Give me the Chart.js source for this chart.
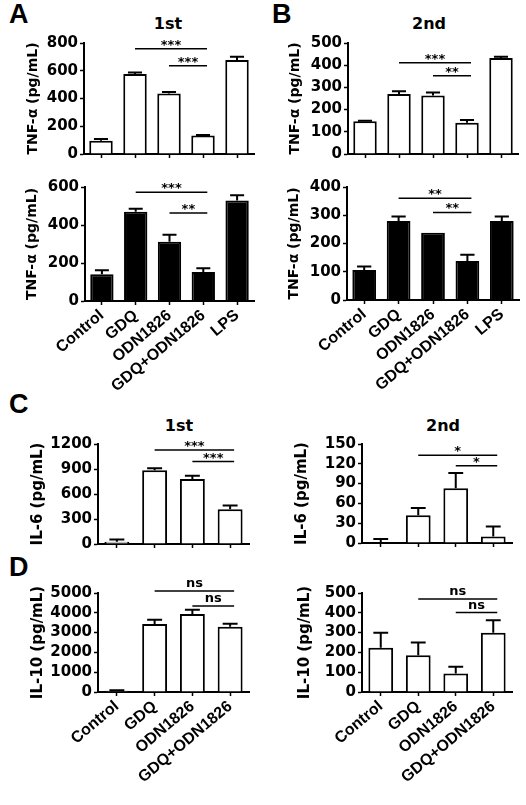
<!DOCTYPE html>
<html>
<head>
<meta charset="utf-8">
<script src="https://cdn.jsdelivr.net/npm/chart.js@4.4.0/dist/chart.umd.min.js"></script>
<style>
  body { margin: 0; background: #fff; width: 526px; height: 805px; position: relative; overflow: hidden; }
  canvas { position: absolute; }
  .txt { position: absolute; font-family: "DejaVu Sans"; font-weight: bold; line-height: 1; color: #000; white-space: nowrap; }
  .ttl { width: 100px; text-align: center; font-size: 16px; }
  .let { font-size: 27px; font-family: "Liberation Sans"; }
</style>
</head>
<body>
<div class="txt let" style="left:9px;top:1px">A</div>
<div class="txt let" style="left:272px;top:1px">B</div>
<div class="txt let" style="left:9px;top:391px">C</div>
<div class="txt let" style="left:9px;top:554px">D</div>
<div class="txt ttl" style="left:118px;top:16px">1st</div>
<div class="txt ttl" style="left:379px;top:16px">2nd</div>
<div class="txt ttl" style="left:129px;top:418px">1st</div>
<div class="txt ttl" style="left:393px;top:418px">2nd</div>

<canvas id="a1"></canvas>
<canvas id="b1"></canvas>
<canvas id="a2"></canvas>
<canvas id="b2"></canvas>
<canvas id="c1"></canvas>
<canvas id="c2"></canvas>
<canvas id="d1"></canvas>
<canvas id="d2"></canvas>

<script>
const groups5 = ['Control', 'GDQ', 'ODN1826', 'GDQ+ODN1826', 'LPS'];
const groups4 = ['Control', 'GDQ', 'ODN1826', 'GDQ+ODN1826'];

// TNF-a, open bars (top row) and filled bars (second row)
const tnfA1 = [96, 576, 436, 133, 677];
const tnfA1Err = [12, 12, 10, 4, 24];
const tnfA1Ticks = [0, 200, 400, 600, 800];
const tnfA1Sig = [[1, 3, 759, '***'], [2, 3, 636, '***']];

const tnfB1 = [147, 270, 263, 141, 432];
const tnfB1Err = [3, 13, 14, 12, 6];
const tnfB1Ticks = [0, 100, 200, 300, 400, 500];
const tnfB1Sig = [[1, 3, 411, '***'], [2, 3, 352, '**']];

const tnfA2 = [141, 470, 312, 153, 529];
const tnfA2Err = [21, 16, 37, 20, 27];
const tnfA2Ticks = [0, 200, 400, 600];
const tnfA2Sig = [[1, 3, 573, '***'], [2, 3, 463, '**']];

const tnfB2 = [106, 280, 238, 138, 280];
const tnfB2Err = [13, 16, 0, 22, 16];
const tnfB2Ticks = [0, 100, 200, 300, 400];
const tnfB2Sig = [[1, 3, 360, '**'], [2, 3, 310, '**']];

// IL-6
const il6First = [28, 885, 780, 418];
const il6FirstErr = [27, 25, 38, 44];
const il6FirstTicks = [0, 300, 600, 900, 1200];
const il6FirstSig = [[1, 3, 1129, '***'], [2, 3, 990, '***']];

const il6Second = [0, 42, 83, 10];
const il6SecondErr = [6, 11, 23, 15];
const il6SecondTicks = [0, 30, 60, 90, 120, 150];
const il6SecondSig = [[1, 3, 133, '*'], [2, 3, 117, '*']];

// IL-10
const il10First = [60, 3435, 3935, 3290];
const il10FirstErr = [30, 210, 225, 160];
const il10FirstTicks = [0, 1000, 2000, 3000, 4000, 5000];
const il10FirstSig = [[1, 3, 5100, 'ns'], [2, 3, 4340, 'ns']];

const il10Second = [223, 186, 94, 299];
const il10SecondErr = [76, 64, 34, 63];
const il10SecondTicks = [0, 100, 200, 300, 400, 500];
const il10SecondSig = [[1, 3, 470, 'ns'], [2, 3, 401, 'ns']];

const ink = '#000';
const fam = 'DejaVu Sans';

// error bars (upper only) + significance brackets
function errSig(p) {
  return {
    id: 'errSig_' + p.id,
    afterDatasetsDraw(chart) {
      const ctx = chart.ctx;
      const x = chart.scales.x, y = chart.scales.y;
      const bars = chart.getDatasetMeta(0).data;
      ctx.save();
      ctx.strokeStyle = ink;
      ctx.lineWidth = 2;
      bars.forEach((bar, i) => {
        const e = p.errs[i];
        if (!e) return;
        const top = y.getPixelForValue(p.values[i] + e);
        const half = bar.width * 0.3;
        ctx.beginPath();
        ctx.moveTo(bar.x, bar.y);
        ctx.lineTo(bar.x, top);
        ctx.moveTo(bar.x - half, top);
        ctx.lineTo(bar.x + half, top);
        ctx.stroke();
      });
      ctx.lineWidth = 1.5;
      ctx.fillStyle = ink;
      ctx.textAlign = 'center';
      ctx.textBaseline = 'alphabetic';
      ctx.font = 'bold 13px "' + fam + '"';
      p.sig.forEach(([from, to, level, text]) => {
        const yy = y.getPixelForValue(level);
        const x1 = x.getPixelForValue(from);
        const x2 = x.getPixelForValue(to) + 4;
        ctx.beginPath();
        ctx.moveTo(x1, yy);
        ctx.lineTo(x2, yy);
        ctx.stroke();
        ctx.fillText(text, (x1 + x2) / 2, text === 'ns' ? yy - 4 : yy);
      });
      ctx.restore();
    }
  };
}

function makePanel(p) {
  const cv = document.getElementById(p.id);
  const [bx, by, bw, bh] = p.box;
  const [al, at, ar, ab] = p.area;
  cv.width = bw;
  cv.height = bh;
  cv.style.left = bx + 'px';
  cv.style.top = by + 'px';
  const tSize = p.titleSize;

  new Chart(cv, {
    type: 'bar',
    data: {
      labels: p.labels,
      datasets: [{
        data: p.values,
        backgroundColor: p.filled ? ink : '#fff',
        borderColor: ink,
        borderWidth: 2,
        barPercentage: p.barPct,
        categoryPercentage: 1
      }]
    },
    options: {
      responsive: false,
      animation: false,
      layout: { padding: { top: at - by, right: bx + bw - ar, left: 0, bottom: 0 } },
      plugins: { legend: { display: false }, tooltip: { enabled: false } },
      scales: {
        x: {
          offset: true,
          grid: { offset: false, drawOnChartArea: false, drawTicks: true, tickLength: 4, tickColor: ink, tickWidth: 1.5 },
          border: { display: true, color: ink, width: 2 },
          ticks: {
            display: p.showX,
            color: ink,
            font: { family: 'Liberation Sans', weight: 'bold', size: 16 },
            minRotation: 40,
            maxRotation: 40,
            autoSkip: false,
            padding: 1
          },
          afterFit: s => { s.height = by + bh - ab; }
        },
        y: {
          min: p.ticks[0],
          max: p.ticks[p.ticks.length - 1],
          ticks: {
            stepSize: p.ticks[1] - p.ticks[0],
            autoSkip: false,
            color: ink,
            font: { family: fam, weight: 'bold', size: 15 },
            padding: 2,
            callback: v => String(v)
          },
          grid: { drawOnChartArea: false, tickLength: 4, tickColor: ink, tickWidth: 1.5 },
          border: { display: true, color: ink, width: 2 },
          title: {
            display: true,
            text: p.yTitle,
            color: ink,
            font: { family: fam, weight: 'bold', size: tSize, lineHeight: 1 },
            padding: { top: p.titleX - bx - tSize / 2, bottom: 0 }
          },
          afterFit: s => { s.width = al - bx; }
        }
      }
    },
    plugins: [errSig(p)]
  });
}

const tnfTitle = 'TNF-α (pg/mL)';

makePanel({ id: 'a1', box: [0, 0, 263, 170], area: [84, 43, 254, 154], titleX: 33, titleSize: 14,
  yTitle: tnfTitle, labels: groups5, values: tnfA1, errs: tnfA1Err, ticks: tnfA1Ticks, sig: tnfA1Sig,
  filled: false, showX: false, barPct: 0.69 });
makePanel({ id: 'b1', box: [263, 0, 263, 170], area: [348, 43, 518, 154], titleX: 295, titleSize: 14,
  yTitle: tnfTitle, labels: groups5, values: tnfB1, errs: tnfB1Err, ticks: tnfB1Ticks, sig: tnfB1Sig,
  filled: false, showX: false, barPct: 0.69 });
makePanel({ id: 'a2', box: [0, 170, 263, 235], area: [85, 187, 254, 301], titleX: 32, titleSize: 14,
  yTitle: tnfTitle, labels: groups5, values: tnfA2, errs: tnfA2Err, ticks: tnfA2Ticks, sig: tnfA2Sig,
  filled: true, showX: true, barPct: 0.69 });
makePanel({ id: 'b2', box: [263, 170, 263, 235], area: [347, 187, 519, 300], titleX: 294, titleSize: 14,
  yTitle: tnfTitle, labels: groups5, values: tnfB2, errs: tnfB2Err, ticks: tnfB2Ticks, sig: tnfB2Sig,
  filled: true, showX: true, barPct: 0.69 });
makePanel({ id: 'c1', box: [0, 430, 263, 130], area: [98, 444, 249, 544], titleX: 38, titleSize: 15,
  yTitle: 'IL-6 (pg/mL)', labels: groups4, values: il6First, errs: il6FirstErr, ticks: il6FirstTicks, sig: il6FirstSig,
  filled: false, showX: false, barPct: 0.66 });
makePanel({ id: 'c2', box: [263, 430, 263, 130], area: [362, 444, 512, 543], titleX: 302, titleSize: 15,
  yTitle: 'IL-6 (pg/mL)', labels: groups4, values: il6Second, errs: il6SecondErr, ticks: il6SecondTicks, sig: il6SecondSig,
  filled: false, showX: false, barPct: 0.66 });
makePanel({ id: 'd1', box: [0, 575, 263, 230], area: [98, 593, 249, 692], titleX: 38, titleSize: 15,
  yTitle: 'IL-10 (pg/mL)', labels: groups4, values: il10First, errs: il10FirstErr, ticks: il10FirstTicks, sig: il10FirstSig,
  filled: false, showX: true, barPct: 0.66 });
makePanel({ id: 'd2', box: [263, 575, 263, 230], area: [362, 593, 512, 692], titleX: 305, titleSize: 15,
  yTitle: 'IL-10 (pg/mL)', labels: groups4, values: il10Second, errs: il10SecondErr, ticks: il10SecondTicks, sig: il10SecondSig,
  filled: false, showX: true, barPct: 0.66 });
</script>
</body>
</html>
